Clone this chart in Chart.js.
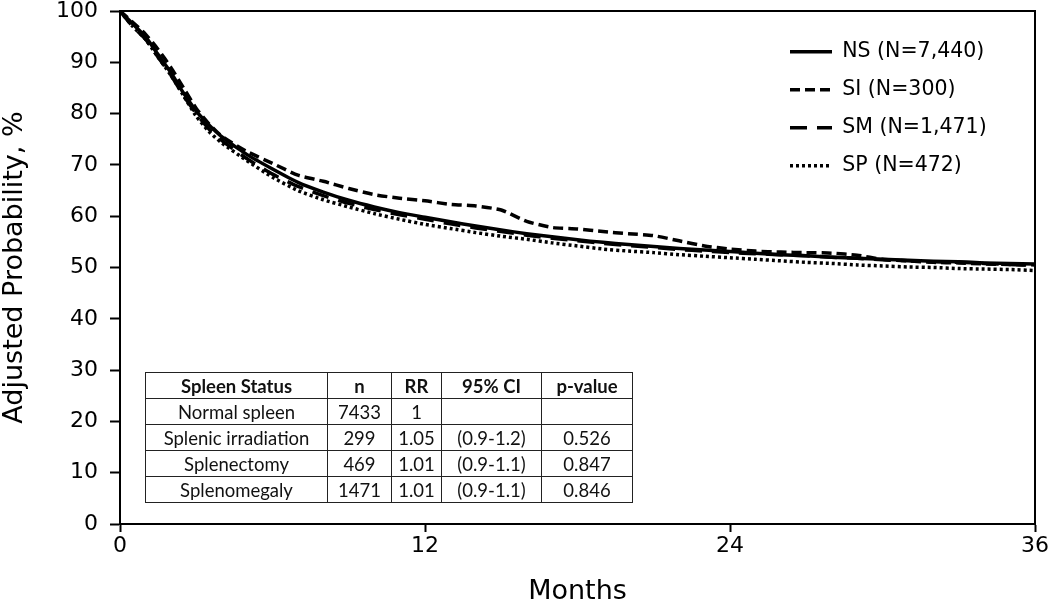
<!DOCTYPE html>
<html>
<head>
<meta charset="utf-8">
<script src="https://cdn.jsdelivr.net/npm/chart.js@4"></script>
<style>
  body { margin: 0; background: #fff; }
  #wrap { position: relative; width: 1050px; height: 602px; }
  #stats {
    position: absolute; left: 145px; top: 372px;
    border-collapse: collapse;
    font-family: Lato, "Liberation Sans", sans-serif; font-size: 18.5px; color: #111;
  }
  #stats td, #stats th {
    border: 1px solid #222; height: 25px; padding: 0 4px; text-align: center;
    font-weight: normal; white-space: nowrap;
  }
  #stats th { font-weight: bold; }
</style>
</head>
<body>
<div id="wrap">
  <canvas id="km" width="1050" height="602"></canvas>
  <table id="stats"></table>
</div>
<script>
// survival curves, months 0-36 (adjusted probability, %)
const months = [0, 0.5, 1, 1.5, 2, 2.5, 3, 3.5, 4, 5, 6, 7, 8, 9, 10, 11, 12, 13, 14, 15, 16, 17, 18,
  19, 20, 21, 22, 23, 24, 25, 26, 27, 28, 29, 30, 31, 32, 33, 34, 35, 36];

const ns = [100, 97.5, 95, 91.5, 88, 84, 80.5, 77.8, 75.5, 72, 69.2, 66.6, 64.7, 63.1, 61.8, 60.7, 59.8,
  58.9, 58.1, 57.3, 56.6, 56, 55.4, 54.9, 54.5, 54.1, 53.7, 53.4, 53.1, 52.8, 52.5, 52.3, 52, 51.8,
  51.6, 51.4, 51.2, 51.1, 50.9, 50.8, 50.7];
const si = [100, 97.8, 95.5, 92.5, 89, 85, 81, 78, 75.6, 72.6, 70.3, 68, 66.8, 65.4, 64.2, 63.5, 63,
  62.3, 62, 61.2, 59, 57.8, 57.5, 57, 56.6, 56.2, 55.2, 54.2, 53.6, 53.2, 53, 52.9, 52.8, 52.4,
  51.6, 51.3, 51, 50.9, 50.7, 50.6, 50.5];
const sm = [100, 97, 94.5, 91, 87.5, 83.5, 80, 77, 74.8, 71.2, 68.2, 65.8, 64, 62.5, 61.3, 60.3, 59.4,
  58.5, 57.7, 57, 56.3, 55.7, 55.2, 54.7, 54.3, 53.9, 53.5, 53.2, 52.9, 52.7, 52.5, 52.3, 52, 51.8,
  51.5, 51.3, 51.1, 51, 50.8, 50.6, 50.4];
const sp = [100, 97, 94.5, 91, 87.5, 83.5, 79.5, 76.5, 74.3, 70.8, 67.6, 65, 63.2, 61.8, 60.5, 59.4, 58.4,
  57.6, 56.8, 56.1, 55.5, 54.8, 54.2, 53.6, 53.2, 52.9, 52.5, 52.2, 51.9, 51.6, 51.3, 51, 50.8, 50.5,
  50.3, 50.1, 50, 49.8, 49.7, 49.6, 49.4];

const seriesNames = ["NS (N=7,440)", "SI (N=300)", "SM (N=1,471)", "SP (N=472)"];
const xTicks = [0, 12, 24, 36];
const yTicks = [0, 10, 20, 30, 40, 50, 60, 70, 80, 90, 100];

const tableHead = ["Spleen Status", "n", "RR", "95% CI", "p-value"];
const tableRows = [
  ["Normal spleen", "7433", "1", "", ""],
  ["Splenic irradiation", "299", "1.05", "(0.9-1.2)", "0.526"],
  ["Splenectomy", "469", "1.01", "(0.9-1.1)", "0.847"],
  ["Splenomegaly", "1471", "1.01", "(0.9-1.1)", "0.846"]
];
const colWidths = [173, 55, 41, 91, 82];

// build the table
const table = document.getElementById("stats");
let html = "<tr>" + tableHead.map((h, i) => `<th style="width:${colWidths[i]}px">${h}</th>`).join("") + "</tr>";
tableRows.forEach((r) => {
  html += "<tr>" + r.map((c) => `<td>${c}</td>`).join("") + "</tr>";
});
table.innerHTML = html;

const pts = (arr) => arr.map((v, i) => ({ x: months[i], y: v }));
const family = "'DejaVu Sans', Verdana, sans-serif";
const tickFont = { family, size: 22 };
const titleFont = { family, size: 27 };

const dashes = [[], [10, 5], [17, 10], [3, 3]];

const datasets = [ns, si, sm, sp].map((arr, i) => ({
  label: seriesNames[i],
  data: pts(arr),
  borderColor: "#000",
  borderWidth: 3.5,
  borderDash: dashes[i],
  pointRadius: 0,
  tension: 0.2,
  fill: false
}));

// fixed axis box sizes, label overhang ignored so the plot box stays put
const fixSize = (w, h) => (s) => {
  if (w !== null) s.width = w;
  if (h !== null) s.height = h;
  s.paddingTop = s.paddingBottom = s.paddingLeft = s.paddingRight = 0;
};

// place the legend in the upper right corner of the plot
const legendSpot = {
  id: "legendSpot",
  afterLayout(chart) {
    const lg = chart.legend;
    const pad = lg.options.labels.padding;
    const w = lg.width, h = lg.height;
    lg.left = 790 - pad;
    lg.top = 24;
    lg.right = lg.left + w;
    lg.bottom = lg.top + h;
  }
};

new Chart(document.getElementById("km"), {
  type: "line",
  data: { datasets },
  options: {
    responsive: false,
    animation: false,
    layout: { padding: 0 },
    plugins: {
      legend: {
        position: "chartArea",
        align: "start",
        labels: {
          usePointStyle: true,
          pointStyle: "line",
          pointStyleWidth: 42,
          boxWidth: 42,
          padding: 17.5,
          color: "#000",
          font: { family, size: 20.5 },
          generateLabels: (chart) =>
            chart.data.datasets.map((ds, i) => ({
              text: ds.label,
              datasetIndex: i,
              strokeStyle: "#000",
              fillStyle: "#000",
              lineWidth: 3.5,
              lineDash: ds.borderDash,
              pointStyle: "line",
              hidden: false
            }))
        }
      },
      tooltip: { enabled: false }
    },
    scales: {
      x: {
        type: "linear",
        min: 0,
        max: 36,
        afterBuildTicks: (s) => { s.ticks = xTicks.map((v) => ({ value: v })); },
        afterFit: fixSize(null, 78),
        border: { color: "#000", width: 2 },
        grid: { drawOnChartArea: false, tickLength: 8, tickColor: "#000", tickWidth: 2 },
        ticks: { color: "#000", font: tickFont, padding: 1, maxRotation: 0 },
        title: { display: true, text: "Months", color: "#000", padding: { top: 0, bottom: -6 }, font: titleFont }
      },
      y: {
        min: 0,
        max: 100,
        afterBuildTicks: (s) => { s.ticks = yTicks.map((v) => ({ value: v })); },
        afterFit: fixSize(120, null),
        border: { color: "#000", width: 2 },
        grid: { drawOnChartArea: false, tickLength: 10, tickColor: "#000", tickWidth: 2 },
        ticks: { color: "#000", font: tickFont, padding: 12 },
        title: { display: true, text: "Adjusted Probability, %", color: "#000", padding: { top: -1, bottom: 0 }, font: titleFont }
      },
      // frame: top and right edges of the plot box
      x2: {
        type: "linear",
        position: "top",
        afterFit: fixSize(null, 11),
        border: { color: "#000", width: 2 },
        grid: { display: false },
        ticks: { display: false }
      },
      y2: {
        position: "right",
        afterFit: fixSize(15, null),
        border: { color: "#000", width: 2 },
        grid: { display: false },
        ticks: { display: false }
      }
    }
  },
  plugins: [legendSpot]
});
</script>
</body>
</html>
